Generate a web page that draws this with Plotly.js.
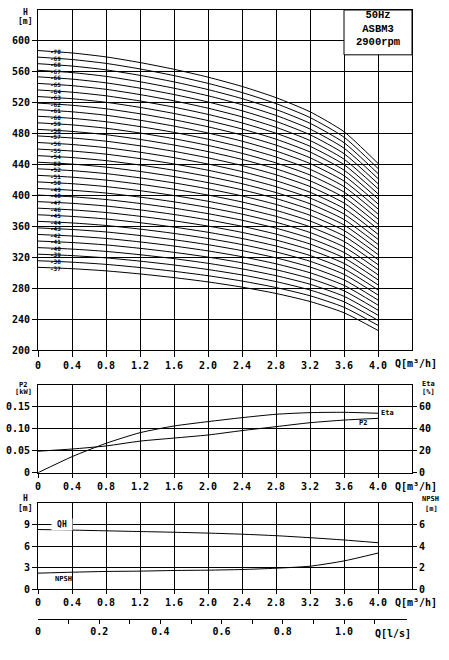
<!DOCTYPE html>
<html><head><meta charset="utf-8">
<script src="https://cdn.plot.ly/plotly-3.0.1.min.js"></script>
<style>html,body{margin:0;padding:0;background:#fff}#chart{width:449px;height:660px}</style>
</head><body><div id="chart"></div>
<script>
// ---- data ----
const flowQ = [0, 0.4, 0.8, 1.2, 1.6, 2.0, 2.4, 2.8, 3.2, 3.6, 4.0];           // m3/h
const stages = [37,38,39,40,41,42,43,44,45,46,47,48,49,50,51,52,53,54,55,56,57,58,59,60,61,62,63,64,65,66,67,68,69,70];
const stageHeadTop = [8.50, 8.46, 8.39, 8.29, 8.17, 8.03, 7.87, 7.68, 7.44, 7.10, 6.55];  // m / stage
const stageOffsetTop = [7.5, 7.8, 8.0, 8.3, 8.6, 9.0, 9.8, 11.0, 12.5, 14.5, 17.0];      // m
// bottom panel: single-stage QH and NPSH
const headQH = [8.34, 8.26, 8.16, 8.06, 7.96, 7.84, 7.69, 7.48, 7.20, 6.88, 6.50];        // m
const npsh = [1.50, 1.59, 1.66, 1.69, 1.75, 1.78, 1.84, 1.96, 2.15, 2.64, 3.37];           // m
const powerP2 = [0.049, 0.054, 0.061, 0.072, 0.079, 0.086, 0.096, 0.105, 0.114, 0.120, 0.124]; // kW
const efficiency = [0, 14.6, 26.8, 36.5, 42.6, 46.6, 50.2, 53.3, 54.8, 55.1, 54.2];        // %
const qTickVals = [0, 0.4, 0.8, 1.2, 1.6, 2.0, 2.4, 2.8, 3.2, 3.6, 4.0];
const qTickText = ['0', '0.4', '0.8', '1.2', '1.6', '2.0', '2.4', '2.8', '3.2', '3.6', '4.0'];
const hTickVals = [200, 240, 280, 320, 360, 400, 440, 480, 520, 560, 600];
const p2TickVals = [0, 0.05, 0.10, 0.15];
const p2TickText = ['0', '0.05', '0.10', '0.15'];
const etaTickVals = [0, 20, 40, 60];
const qhTickVals = [0, 3, 6, 9];
const npshTickVals = [0, 2, 4, 6];
const lsTickVals = [0, 0.1, 0.2, 0.3, 0.4, 0.5, 0.6, 0.7, 0.8, 0.9, 1.0, 1.1];
const lsTickText = ['0', '', '0.2', '', '0.4', '', '0.6', '', '0.8', '', '1.0', ''];
const infoText = '50Hz<br>ASBM3<br>2900rpm';

// ---- build ----
const FONT = 'DejaVu Sans Mono, monospace';
const tf = {family: FONT, size: 10, color: '#000', weight: 'bold'};
const LINE = {color: '#000', width: 1, shape: 'spline', smoothing: 0.6};
const traces = [];
const annotations = [];
stages.forEach(n => {
  const h = flowQ.map((q, i) => n * stageHeadTop[i] - stageOffsetTop[i]);
  traces.push({x: flowQ, y: h, xaxis: 'x', yaxis: 'y', mode: 'lines', line: LINE, hoverinfo: 'skip'});
  annotations.push({xref: 'x', yref: 'y', x: 0.21, y: (h[0] + h[1]) / 2, text: '-' + n,
    showarrow: false, font: {family: FONT, size: 6, color: '#000', weight: 'bold'}, xanchor: 'center', yanchor: 'middle'});
});
traces.push({x: flowQ, y: powerP2, xaxis: 'x2', yaxis: 'y2', mode: 'lines', line: LINE, hoverinfo: 'skip'});
traces.push({x: flowQ, y: efficiency, xaxis: 'x2', yaxis: 'y3', mode: 'lines', line: LINE, hoverinfo: 'skip'});
traces.push({x: flowQ, y: headQH, xaxis: 'x3', yaxis: 'y4', mode: 'lines', line: LINE, hoverinfo: 'skip'});
traces.push({x: flowQ, y: npsh, xaxis: 'x3', yaxis: 'y5', mode: 'lines', line: LINE, hoverinfo: 'skip'});
traces.push({x: [0.5], y: [0.5], xaxis: 'x4', yaxis: 'y6', mode: 'markers', marker: {opacity: 0, size: 1}, hoverinfo: 'skip'});

const base = {showline: true, mirror: true, linecolor: '#000', linewidth: 1,
  showgrid: true, gridcolor: '#000', gridwidth: 1, zeroline: false,
  ticks: 'outside', ticklen: 5, tickcolor: '#000', tickwidth: 1, tickfont: tf, fixedrange: true};
const qAxis = (anchor, len) => Object.assign({}, base, {anchor: anchor, range: [0, 4.4],
  tickmode: 'array', tickvals: qTickVals, ticktext: qTickText, domain: [0, 1], ticklen: len});

const W = 374, T = 10, B = 650, PH = B - T;
const py = p => (B - p) / PH;
const px = x => (x - 38) / W;
const layout = {
  width: 449, height: 660, showlegend: false,
  margin: {l: 38, r: 37, t: T, b: 660 - B},
  paper_bgcolor: '#fff', plot_bgcolor: '#fff',
  xaxis: qAxis('y', 6),
  yaxis: Object.assign({}, base, {anchor: 'x', range: [200, 640], tickmode: 'array', tickvals: hTickVals,
    ticktext: hTickVals.map(String), domain: [py(350), 1]}),
  xaxis2: qAxis('y2', 4),
  yaxis2: Object.assign({}, base, {anchor: 'x2', range: [0, 0.2], tickmode: 'array', tickvals: p2TickVals,
    ticktext: p2TickText, domain: [py(472.7), py(385)]}),
  yaxis3: Object.assign({}, base, {range: [0, 80], tickmode: 'array', tickvals: etaTickVals,
    ticktext: etaTickVals.map(String), overlaying: 'y2', side: 'right', anchor: 'x2', showgrid: false, ticklen: 4, mirror: false}),
  xaxis3: qAxis('y4', 4),
  yaxis4: Object.assign({}, base, {anchor: 'x3', range: [0, 12], tickmode: 'array', tickvals: qhTickVals,
    ticktext: qhTickVals.map(String), domain: [py(589.3), py(503.3)]}),
  yaxis5: Object.assign({}, base, {range: [0, 8], tickmode: 'array', tickvals: npshTickVals,
    ticktext: npshTickVals.map(String), overlaying: 'y4', side: 'right', anchor: 'x3', showgrid: false, ticklen: 4, mirror: false}),
  xaxis4: Object.assign({}, base, {anchor: 'y6', side: 'top', domain: [0, 369 / W], range: [0, 1.2059],
    tickmode: 'array', tickvals: lsTickVals, ticktext: lsTickText, showgrid: false, mirror: false,
    ticks: 'inside', ticklen: 4, ticklabelposition: 'inside', ticklabelstandoff: 3, ticklabeloverflow: 'allow'}),
  yaxis6: {anchor: 'x4', domain: [0, py(620)], range: [0, 1], showline: false, showgrid: false,
    zeroline: false, showticklabels: false, ticks: '', fixedrange: true},
  annotations: annotations,
  shapes: [{type: 'rect', xref: 'x', yref: 'y', x0: 3.6, x1: 4.4, y0: 582, y1: 640,
    fillcolor: '#fff', line: {color: '#000', width: 1}, layer: 'above'}]
};
const small = (x, y, text, size, extra) => Object.assign({xref: 'paper', yref: 'paper', x: x, y: y,
  text: text, showarrow: false, font: {family: FONT, size: size || 7, color: '#000', weight: 'bold'},
  xanchor: 'center', yanchor: 'middle'}, extra || {});
annotations.push(
  small(px(25), py(12), 'H', 8), small(px(25), py(21.5), '[m]', 8),
  small(px(23), py(385), 'P2', 7), small(px(23), py(392), '[kW]', 7),
  small(px(428), py(384), 'Eta', 7), small(px(428), py(392), '[%]', 7),
  small(px(25), py(498), 'H', 8), small(px(25), py(508), '[m]', 8),
  small(px(430), py(499), 'NPSH', 7), small(px(431), py(509), '[m]', 7),
  small(px(393), py(363), 'Q[m³/h]', 10, {xanchor: 'left'}),
  small(px(393), py(486), 'Q[m³/h]', 10, {xanchor: 'left'}),
  small(px(393), py(602.7), 'Q[m³/h]', 10, {xanchor: 'left'}),
  small(px(392.7), py(633), 'Q[l/s]', 10),
  small(px(387), py(413), 'Eta', 7), small(px(363), py(423.3), 'P2', 7),
  small(px(62), py(524.3), 'QH', 8, {bgcolor: '#fff', width: 18}),
  small(px(63), py(578.7), 'NPSH', 7),
  small(px(378), py(29), infoText, 10.5, {font: {family: 'Liberation Mono, monospace', size: 10.5, color: '#000', weight: 'bold'}})
);

Plotly.newPlot('chart', traces, layout, {displayModeBar: false, staticPlot: true});
</script></body></html>
